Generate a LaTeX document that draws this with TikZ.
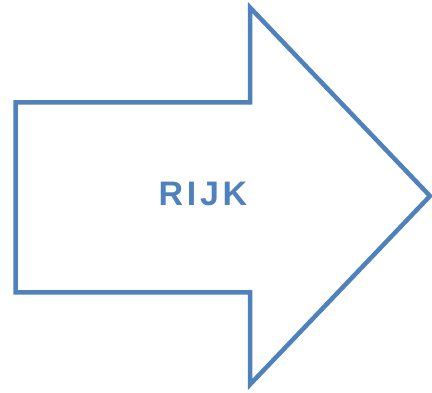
\documentclass[tikz,border=0pt]{standalone}
\usepackage{fontspec}
\setmainfont{Liberation Sans}
\definecolor{arrowblue}{HTML}{4F81BD}
\begin{document}
\begin{tikzpicture}[x=1pt,y=-1pt,
  arrowline/.style={draw=arrowblue,line width=4.5pt,line join=miter,fill=white},
  label/.style={text=arrowblue,font=\fontsize{34}{38}\selectfont\bfseries\addfontfeature{LetterSpace=11}}]
\useasboundingbox (0,0) rectangle (432,393);
\draw[arrowline] (15.5,102.5) -- (250,102.5) -- (250,7.5) -- (430,196) -- (250,384.5) -- (250,292.5) -- (15.5,292.5) -- cycle;
\node[label,anchor=base] (t) at (203,206) {RIJK};
\end{tikzpicture}
\end{document}
